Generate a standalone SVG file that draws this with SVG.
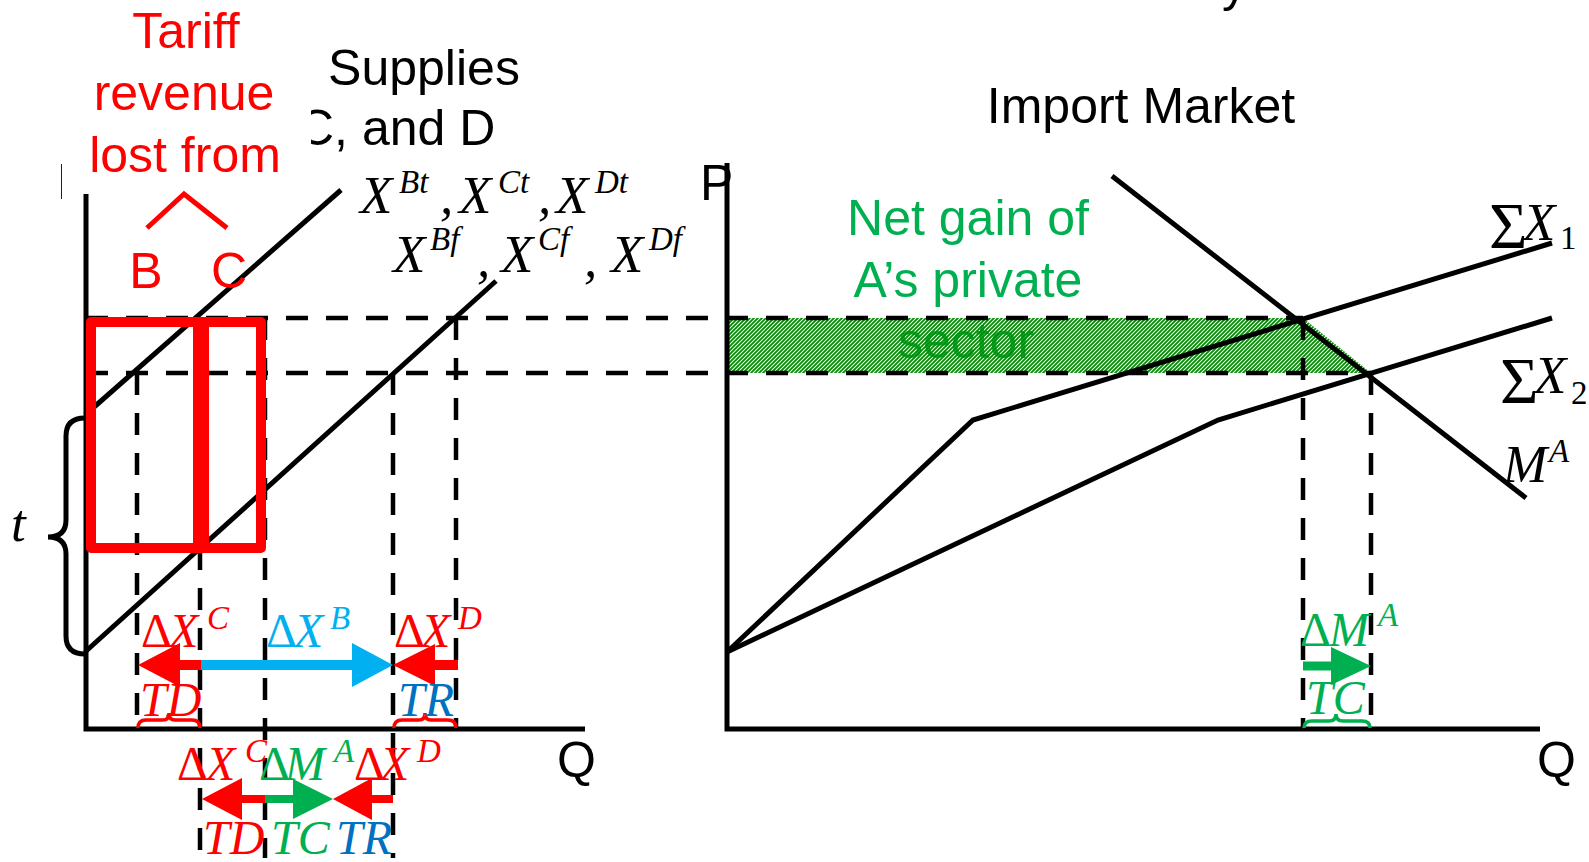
<svg xmlns="http://www.w3.org/2000/svg" width="1589" height="862" viewBox="0 0 1589 862">
<style>
.ln{stroke:#000;stroke-width:5;fill:none;stroke-linecap:butt}
.dash{stroke:#000;stroke-width:4.5;fill:none;stroke-dasharray:22 18}
.sans{font-family:"Liberation Sans",Arial,sans-serif;font-size:50px}
.m{font-family:"Liberation Serif","DejaVu Serif",serif;font-style:italic;font-size:48px}
.big{font-size:53px}
.up{font-style:normal}
.sp{font-size:33px}
.red{fill:#FF0000}
.cyan{fill:#00B0F0}
.blue{fill:#0070C0}
.grn{fill:#00B050}
.redS{stroke:#FF0000}
.cyanS{stroke:#00B0F0}
.grnS{stroke:#00B050}
.brace{fill:none;stroke-width:3.5}
</style>
<defs>
<pattern id="hatch" patternUnits="userSpaceOnUse" width="4" height="4">
<path d="M-1,1 l2,-2 M0,4 l4,-4 M3,5 l2,-2" stroke="#008C00" stroke-width="1.8"/>
</pattern>
<clipPath id="clipP"><rect x="0" y="0" width="62" height="300"/></clipPath>
<clipPath id="clipC"><rect x="311" y="0" width="400" height="300"/></clipPath>
</defs>
<rect width="1589" height="862" fill="#fff"/>

<!-- titles -->
<g id="titles">
<text class="sans" x="1222" y="1">y</text>
<text class="sans" x="57" y="199" clip-path="url(#clipP)">P</text>
<text class="sans" x="424" y="85" text-anchor="middle">Supplies</text>
<text class="sans" x="298" y="145" clip-path="url(#clipC)">C, and D</text>
<text class="sans" x="1141" y="123" text-anchor="middle">Import Market</text>
<text class="sans" x="700" y="200">P</text>
<text class="sans" x="557" y="777">Q</text>
<text class="sans" x="1537" y="777">Q</text>
</g>

<!-- green area -->
<g id="net-gain">
<text class="sans grn" x="968" y="235" text-anchor="middle">Net gain of</text>
<text class="sans grn" x="968" y="297" text-anchor="middle">A’s private</text>
<text class="sans grn" x="966" y="358" text-anchor="middle">sector</text>
<polygon points="728,318 1303,318 1371,373 728,373" fill="url(#hatch)"/>
</g>

<!-- dashed guides -->
<g id="guides">
<line class="dash" x1="86" y1="318" x2="1303" y2="318"/>
<line class="dash" x1="86" y1="373" x2="1371" y2="373"/>
<line class="dash" x1="137" y1="373" x2="137" y2="729"/>
<line class="dash" x1="200" y1="548" x2="200" y2="858"/>
<line class="dash" x1="265" y1="318" x2="265" y2="858"/>
<line class="dash" x1="393" y1="373" x2="393" y2="858"/>
<line class="dash" x1="456" y1="318" x2="456" y2="729"/>
<line class="dash" x1="1303" y1="318" x2="1303" y2="729"/>
<line class="dash" x1="1371" y1="373" x2="1371" y2="729"/>
</g>

<!-- axes and curves -->
<g id="left-chart">
<polyline class="ln" points="86,194 86,729 585,729"/>
<line class="ln" x1="85" y1="415" x2="341" y2="190"/>
<line class="ln" x1="85" y1="652" x2="496" y2="281"/>
<path class="ln" stroke-width="4" d="M85,418 Q66,418 66,436 L66,520 Q66,537 48,537 Q66,537 66,554 L66,636 Q66,654 85,654"/>
<text class="m big" x="11" y="541">t</text>
</g>
<g id="right-chart">
<polyline class="ln" points="727,163 727,729 1540,729"/>
<line class="ln" x1="1112" y1="176" x2="1526" y2="498"/>
<polyline class="ln" points="727,652 973,420 1552,243"/>
<polyline class="ln" points="727,652 1218,420 1552,318"/>
</g>

<!-- tariff revenue -->
<g id="tariff">
<text class="sans red" x="186" y="48" text-anchor="middle">Tariff</text>
<text class="sans red" x="184" y="110" text-anchor="middle">revenue</text>
<text class="sans red" x="185" y="172" text-anchor="middle">lost from</text>
<polyline points="147,228 184,194 227,228" fill="none" stroke="#FF0000" stroke-width="5"/>
<text class="sans red" x="146" y="288" text-anchor="middle">B</text>
<text class="sans red" x="229" y="288" text-anchor="middle">C</text>
<rect x="91" y="322" width="110" height="226" fill="none" stroke="#FF0000" stroke-width="10" stroke-linejoin="round"/>
<rect x="201" y="322" width="60" height="226" fill="none" stroke="#FF0000" stroke-width="10" stroke-linejoin="round"/>
<rect x="193" y="317" width="16" height="236" fill="#FF0000"/>
</g>

<!-- curve labels -->
<g id="curve-labels">
<text class="m big"><tspan x="360" y="213">X</tspan><tspan class="sp" x="399" y="193">Bt</tspan><tspan x="440" y="213">,</tspan><tspan x="459" y="213">X</tspan><tspan class="sp" x="498" y="193">Ct</tspan><tspan x="538" y="213">,</tspan><tspan x="556" y="213">X</tspan><tspan class="sp" x="595" y="193">Dt</tspan></text>
<text class="m big"><tspan x="393" y="272">X</tspan><tspan class="sp" x="430" y="250">Bf</tspan><tspan x="477" y="276">,</tspan><tspan x="501" y="272">X</tspan><tspan class="sp" x="538" y="250">Cf</tspan><tspan x="584" y="276">,</tspan><tspan x="611" y="272">X</tspan><tspan class="sp" x="649" y="250">Df</tspan></text>
<text class="m big"><tspan class="up" x="1489" y="248" font-size="66">Σ</tspan><tspan x="1523" y="240">X</tspan><tspan class="up sp" x="1560" y="249">1</tspan></text>
<text class="m big"><tspan class="up" x="1500" y="403" font-size="66">Σ</tspan><tspan x="1534" y="393">X</tspan><tspan class="up sp" x="1571" y="404">2</tspan></text>
<text class="m big"><tspan x="1503" y="482">M</tspan><tspan class="sp" x="1549" y="462">A</tspan></text>
</g>

<!-- change arrows -->
<g id="connectors">
<line x1="201" y1="665" x2="176" y2="665" class="redS" stroke-width="10"/>
<polygon class="red" points="138,665 180,643 180,687"/>
<line x1="201" y1="665" x2="356" y2="665" class="cyanS" stroke-width="10"/>
<polygon class="cyan" points="393,665 352,643 352,687"/>
<line x1="458" y1="665" x2="431" y2="665" class="redS" stroke-width="10"/>
<polygon class="red" points="393,665 435,644 435,686"/>

<line x1="265" y1="799" x2="238" y2="799" class="redS" stroke-width="8"/>
<polygon class="red" points="202,799 242,778 242,820"/>
<line x1="265" y1="799" x2="297" y2="799" class="grnS" stroke-width="8"/>
<polygon class="grn" points="333,799 293,779 293,819"/>
<line x1="393" y1="799" x2="368" y2="799" class="redS" stroke-width="8"/>
<polygon class="red" points="333,799 372,778 372,820"/>

<line x1="1303" y1="666" x2="1335" y2="666" class="grnS" stroke-width="9"/>
<polygon class="grn" points="1371,666 1331,647 1331,685"/>

<path class="brace redS" d="M138,728 Q138,720 146,720 L163,720 Q169,720 169,713 Q169,720 175,720 L192,720 Q200,720 200,728"/>
<path class="brace redS" d="M394,728 Q394,720 402,720 L419,720 Q425,720 425,713 Q425,720 431,720 L448,720 Q456,720 456,728"/>
<path class="brace grnS" d="M1304,728 Q1304,721 1312,721 L1329,721 Q1336,721 1336,714 Q1336,721 1343,721 L1362,721 Q1370,721 1370,728"/>
</g>

<!-- change labels -->
<g id="change-labels">
<text class="m red"><tspan class="up" x="141" y="647">Δ</tspan><tspan x="169" y="647">X</tspan><tspan class="sp" x="207" y="629">C</tspan></text>
<text class="m cyan"><tspan class="up" x="266" y="647">Δ</tspan><tspan x="294" y="647">X</tspan><tspan class="sp" x="330" y="629">B</tspan></text>
<text class="m red"><tspan class="up" x="394" y="647">Δ</tspan><tspan x="421" y="647">X</tspan><tspan class="sp" x="458" y="629">D</tspan></text>
<text class="m red" x="140" y="716">TD</text>
<text class="m blue" x="398" y="716">TR</text>

<text class="m red"><tspan class="up" x="177" y="780">Δ</tspan><tspan x="206" y="780">X</tspan><tspan class="sp" x="245" y="762">C</tspan></text>
<text class="m grn"><tspan class="up" x="259" y="780">Δ</tspan><tspan x="285" y="780">M</tspan><tspan class="sp" x="334" y="762">A</tspan></text>
<text class="m red"><tspan class="up" x="354" y="780">Δ</tspan><tspan x="380" y="780">X</tspan><tspan class="sp" x="417" y="762">D</tspan></text>
<text class="m red" x="203" y="854">TD</text>
<text class="m grn" x="271" y="854">TC</text>
<text class="m blue" x="336" y="854">TR</text>

<text class="m grn"><tspan class="up" x="1300" y="646">Δ</tspan><tspan x="1329" y="646">M</tspan><tspan class="sp" x="1378" y="626">A</tspan></text>
<text class="m grn" x="1306" y="714">TC</text>
</g>
</svg>
